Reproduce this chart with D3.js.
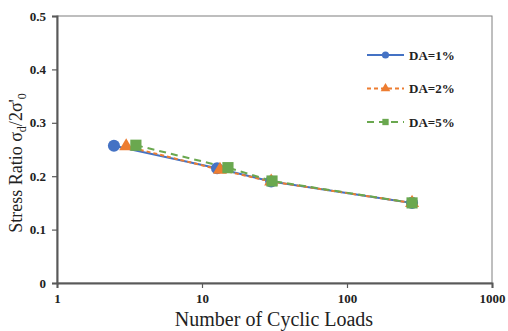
<!DOCTYPE html>
<html>
<head>
<meta charset="utf-8">
<script src="https://cdn.jsdelivr.net/npm/d3@7"></script>
<style>
body { margin: 0; background: #fff; }
svg text { font-family: "Liberation Serif", "Times New Roman", serif; }
</style>
</head>
<body>
<svg width="508" height="331"></svg>
<script>
var margin = {top: 16, right: 16, bottom: 48, left: 57}
  , width = 508 - margin.left - margin.right
  , height = 331 - margin.top - margin.bottom;

// data
var seriesNames = ["DA=1%", "DA=2%", "DA=5%"];
var colors = ["#4472C4", "#ED7D31", "#6AA84F"];
var dashes = [null, "4,3", "7,5"];
var symbols = [d3.symbolCircle, d3.symbolTriangle, d3.symbolSquare];
var cycles1 = [2.47, 12.7, 30, 281];
var ratio1 = [0.257, 0.215, 0.190, 0.150];
var cycles2 = [3.0, 13.3, 30, 281];
var ratio2 = [0.256, 0.212, 0.190, 0.150];
var cycles5 = [3.5, 15.1, 30.4, 281];
var ratio5 = [0.258, 0.216, 0.191, 0.150];
var xTicks = [1, 10, 100, 1000];
var yTicks = [0, 0.1, 0.2, 0.3, 0.4, 0.5];

var series = [[cycles1, ratio1], [cycles2, ratio2], [cycles5, ratio5]].map(function(s, i){
  return {name: seriesNames[i], pts: s[0].map(function(c, j){ return {n: c, r: s[1][j]}; })};
});

var svg = d3.select("svg");
var g = svg.append("g").attr("transform", "translate(" + margin.left + "," + margin.top + ")");

var x = d3.scaleLog().domain([1, 1000]).range([0, width]);
var y = d3.scaleLinear().domain([0, 0.5]).range([height, 0]);

// frame
g.append("rect").attr("width", width).attr("height", height)
  .attr("fill", "none").attr("stroke", "#7f7f7f").attr("stroke-width", 1);

var xAxis = g.append("g").attr("transform", "translate(0," + height + ")")
  .call(d3.axisBottom(x).tickValues(xTicks).tickFormat(d3.format("d")).tickSize(5).tickPadding(6));
var yAxis = g.append("g")
  .call(d3.axisLeft(y).tickValues(yTicks).tickFormat(function(d){ return d === 0 ? "0" : d3.format(".1f")(d); }).tickSize(5).tickPadding(6));

[xAxis, yAxis].forEach(function(a){
  a.select(".domain").attr("stroke", "#595959").attr("stroke-width", 2);
  a.selectAll(".tick line").attr("stroke", "#595959").attr("stroke-width", 1.2);
  a.selectAll(".tick text").attr("font-family", "Liberation Serif").attr("font-weight", "bold")
    .attr("font-size", 13).attr("fill", "#222");
});

var line = d3.line().x(function(d){ return x(d.n); }).y(function(d){ return y(d.r); });

series.forEach(function(s, i){
  g.append("path").datum(s.pts).attr("d", line)
    .attr("fill", "none").attr("stroke", colors[i]).attr("stroke-width", 2)
    .attr("stroke-dasharray", dashes[i]);
});
var sizes = [115, 85, 125];
series.forEach(function(s, i){
  g.selectAll(".m" + i).data(s.pts).enter().append("path")
    .attr("transform", function(d){ return "translate(" + x(d.n) + "," + y(d.r) + ")"; })
    .attr("d", d3.symbol().type(symbols[i]).size(sizes[i]))
    .attr("fill", colors[i]);
});

// legend
var leg = svg.append("g").attr("transform", "translate(367,55)");
seriesNames.forEach(function(name, i){
  var row = leg.append("g").attr("transform", "translate(0," + (i * 33.5) + ")");
  row.append("line").attr("x1", 0).attr("x2", 37).attr("y1", 0).attr("y2", 0)
    .attr("stroke", colors[i]).attr("stroke-width", 2).attr("stroke-dasharray", dashes[i]);
  row.append("path").attr("transform", "translate(18.5,0)")
    .attr("d", d3.symbol().type(symbols[i]).size(40)).attr("fill", colors[i]);
  row.append("text").attr("x", 42).attr("y", 4.5).attr("font-size", 13).attr("font-weight", "bold")
    .attr("fill", "#222").text(name);
});

// axis titles
svg.append("text").attr("x", 274).attr("y", 326).attr("text-anchor", "middle")
  .attr("font-size", 20).attr("fill", "#222").text("Number of Cyclic Loads");

var yl = svg.append("text").attr("transform", "translate(22,163) rotate(-90)")
  .attr("text-anchor", "middle").attr("font-size", 18).attr("fill", "#222");
yl.append("tspan").text("Stress Ratio \u03c3");
yl.append("tspan").attr("font-size", 12).attr("dy", 4).text("d");
yl.append("tspan").attr("dy", -4).text("/2\u03c3'");
yl.append("tspan").attr("font-size", 12).attr("dy", 4).text("0");
</script>
</body>
</html>
